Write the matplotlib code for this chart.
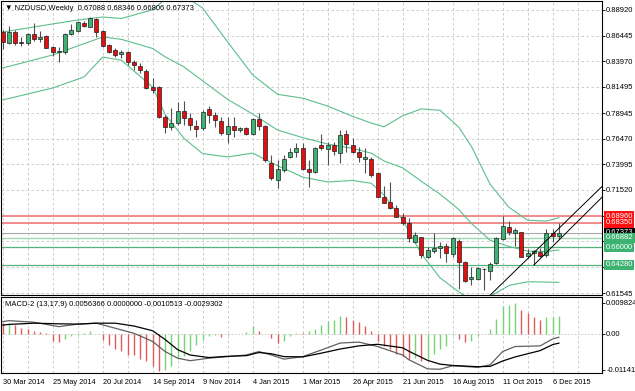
import numpy as np
import matplotlib.pyplot as plt
from matplotlib.patches import Rectangle

plt.rcParams['font.family'] = ['Liberation Sans', 'DejaVu Sans']

# weekly NZDUSD candles, week of 30 Mar 2014 .. 13 Dec 2015
opens = [0.8682, 0.8576, 0.8682, 0.8583, 0.8570, 0.8657, 0.8609, 0.8636, 0.8531, 0.8486,
         0.8483, 0.8657, 0.8692, 0.8769, 0.8731, 0.8805, 0.8692, 0.8554, 0.8505, 0.8462,
         0.8489, 0.8392, 0.8350, 0.8305, 0.8145, 0.8145, 0.7860, 0.7764, 0.7796, 0.7915,
         0.7845, 0.7770, 0.7754, 0.7935, 0.7877, 0.7822, 0.7693, 0.7773, 0.7732, 0.7748,
         0.7690, 0.7835, 0.7770, 0.7415, 0.7248, 0.7345, 0.7473, 0.7522, 0.7555, 0.7352,
         0.7323, 0.7587, 0.7545, 0.7587, 0.7512, 0.7693, 0.7587, 0.7522, 0.7448, 0.7448,
         0.7313, 0.7081, 0.7038, 0.6974, 0.6893, 0.6829, 0.6651, 0.6694, 0.6506, 0.6562,
         0.6593, 0.6610, 0.6530, 0.6661, 0.6458, 0.6288, 0.6291, 0.6383, 0.6368, 0.6443,
         0.6675, 0.6791, 0.6733, 0.6742, 0.6516, 0.6539, 0.6555, 0.6523, 0.6738, 0.67088]
highs = [0.8699, 0.8737, 0.8694, 0.8634, 0.8670, 0.8769, 0.8692, 0.8650, 0.8544, 0.8537,
         0.8670, 0.8757, 0.8790, 0.8781, 0.8827, 0.8815, 0.8703, 0.8563, 0.8522, 0.8505,
         0.8500, 0.8408, 0.8382, 0.8317, 0.8232, 0.8157, 0.7877, 0.7944, 0.8002, 0.8012,
         0.7896, 0.7828, 0.7925, 0.7964, 0.7909, 0.7854, 0.7860, 0.7860, 0.7765, 0.7764,
         0.7845, 0.7893, 0.7780, 0.7490, 0.7441, 0.7490, 0.7555, 0.7609, 0.7603, 0.7441,
         0.7564, 0.7693, 0.7618, 0.7618, 0.7732, 0.7732, 0.7651, 0.7570, 0.7555, 0.7473,
         0.7321, 0.7190, 0.7232, 0.7006, 0.6926, 0.6878, 0.6748, 0.6700, 0.6603, 0.6733,
         0.6651, 0.6636, 0.6700, 0.6675, 0.6465, 0.6410, 0.6410, 0.6394, 0.6458, 0.6700,
         0.6900, 0.6855, 0.6781, 0.6748, 0.6578, 0.6571, 0.6588, 0.6771, 0.6771, 0.68346]
lows = [0.8515, 0.8563, 0.8558, 0.8544, 0.8554, 0.8592, 0.8585, 0.8520, 0.8447, 0.8392,
        0.8471, 0.8650, 0.8684, 0.8728, 0.8723, 0.8634, 0.8534, 0.8473, 0.8435, 0.8425,
        0.8360, 0.8312, 0.8286, 0.8128, 0.8087, 0.7852, 0.7700, 0.7732, 0.7780, 0.7780,
        0.7732, 0.7661, 0.7732, 0.7796, 0.7764, 0.7683, 0.7603, 0.7667, 0.7715, 0.7683,
        0.7683, 0.7732, 0.7425, 0.7248, 0.7168, 0.7328, 0.7458, 0.7473, 0.7345, 0.7178,
        0.7313, 0.7538, 0.7393, 0.7490, 0.7415, 0.7522, 0.7512, 0.7425, 0.7313, 0.7274,
        0.7079, 0.7023, 0.6965, 0.6887, 0.6813, 0.6651, 0.6636, 0.6491, 0.6491, 0.6539,
        0.6491, 0.6458, 0.6506, 0.6191, 0.6265, 0.6233, 0.6281, 0.6184, 0.6281, 0.6436,
        0.6668, 0.6716, 0.6610, 0.6501, 0.6491, 0.6426, 0.6506, 0.6506, 0.6651, 0.66806]
closes = [0.8585, 0.8682, 0.8570, 0.8573, 0.8657, 0.8609, 0.8634, 0.8529, 0.8483, 0.8496,
          0.8657, 0.8699, 0.8779, 0.8737, 0.8812, 0.8676, 0.8544, 0.8489, 0.8457, 0.8489,
          0.8392, 0.8360, 0.8312, 0.8135, 0.8118, 0.7860, 0.7764, 0.7802, 0.7918, 0.7845,
          0.7780, 0.7738, 0.7903, 0.7877, 0.7828, 0.7700, 0.7770, 0.7732, 0.7754, 0.7690,
          0.7835, 0.7773, 0.7441, 0.7265, 0.7352, 0.7448, 0.7522, 0.7555, 0.7352, 0.7328,
          0.7555, 0.7555, 0.7587, 0.7531, 0.7683, 0.7596, 0.7522, 0.7473, 0.7473, 0.7297,
          0.7087, 0.7029, 0.6974, 0.6893, 0.6835, 0.6684, 0.6716, 0.6523, 0.6571, 0.6588,
          0.6610, 0.6545, 0.6690, 0.6452, 0.6274, 0.6313, 0.6394, 0.6388, 0.6436, 0.6684,
          0.6803, 0.6748, 0.6765, 0.6506, 0.6539, 0.6565, 0.6516, 0.6738, 0.6706, 0.67373]

# Bollinger bands (candle index, price)
bb_up_idx = [0, 4, 8, 12, 16, 19, 24, 26, 29, 32, 36, 40, 44, 48, 52, 56, 59, 61, 64, 67, 70,
             73, 75, 78, 81, 84, 87, 89]
bb_up = [0.8679, 0.8718, 0.8757, 0.8795, 0.8824, 0.8810, 0.8894, 0.8997, 0.9033, 0.8910, 0.8583,
         0.8264, 0.8076, 0.8040, 0.7963, 0.7864, 0.7798, 0.7762, 0.7869, 0.7936, 0.7922, 0.7758,
         0.7573, 0.7207, 0.6984, 0.6859, 0.6851, 0.6883]
bb_mid_idx = [0, 8, 16, 19, 24, 26, 29, 32, 36, 40, 44, 48, 52, 56, 59, 61, 64, 67, 70, 73, 75,
              78, 81, 84, 87, 89]
bb_mid = [0.8331, 0.8457, 0.8631, 0.8608, 0.8520, 0.8439, 0.8342, 0.8207, 0.8027, 0.7886, 0.7731,
          0.7658, 0.7596, 0.7554, 0.7507, 0.7433, 0.7365, 0.7235, 0.7111, 0.6962, 0.6828, 0.6665,
          0.6606, 0.6561, 0.6556, 0.6571]
bb_low_idx = [0, 8, 13, 16, 19, 24, 26, 29, 32, 36, 40, 44, 48, 52, 56, 59, 61, 64, 67, 70, 73,
              75, 78, 81, 84, 87, 89]
bb_low = [0.8022, 0.8138, 0.8244, 0.8437, 0.8406, 0.8146, 0.7881, 0.7651, 0.7503, 0.7471, 0.7508,
          0.7386, 0.7276, 0.7229, 0.7244, 0.7216, 0.7104, 0.6861, 0.6534, 0.6301, 0.6166, 0.6088,
          0.6123, 0.6228, 0.6264, 0.6261, 0.6258]

# MACD-2 (13,17,9)
macd_hist = [0.0033, 0.0035, 0.0029, 0.0019, 0.0014, 0.0009, 0.0005, 0.0002, -0.0023, -0.0026,
             -0.0016, -0.0007, -0.0002, 0.0003, 0.0009, 0.0001, -0.0018, -0.0034, -0.0048, -0.0055,
             -0.0066, -0.0068, -0.0081, -0.0087, -0.0102, -0.0118, -0.0113, -0.0102, -0.0081, -0.0071,
             -0.0055, -0.0034, -0.0018, -0.0007, -0.0003, -0.0010, -0.0002, -0.0001, 0.0001, 0.0005,
             0.0024, 0.0009, 0.0001, -0.0013, -0.0029, -0.0023, -0.0007, 0.0003, 0.0002, 0.0008,
             0.0016, 0.0029, 0.0040, 0.0043, 0.0056, 0.0055, 0.0043, 0.0037, 0.0026, 0.0010,
             -0.0022, -0.0038, -0.0049, -0.0064, -0.0070, -0.0080, -0.0075, -0.0086, -0.0080, -0.0064,
             -0.0049, -0.0037, -0.0002, -0.0016, -0.0026, -0.0023, -0.0007, 0.0001, 0.0014, 0.0048,
             0.0090, 0.0093, 0.0098, 0.0077, 0.0067, 0.0054, 0.0045, 0.0052, 0.0054, 0.0056366]
macd_idx = [0, 1, 5, 9, 12, 15, 18, 21, 24, 26, 28, 30, 33, 36, 39, 41, 43, 45, 48, 51, 54, 57, 60,
            64, 65, 68, 70, 72, 76, 78, 80, 82, 86, 88, 89]
macd_line = [0.0039, 0.0042, 0.0037, 0.0023, 0.0031, 0.0034, 0.0018, 0.0002, -0.0024, -0.0056, -0.0077,
             -0.0085, -0.0077, -0.0072, -0.0067, -0.0056, -0.0067, -0.0080, -0.0072, -0.0051, -0.0029,
             -0.0026, -0.0040, -0.0067, -0.0082, -0.0111, -0.0112, -0.0101, -0.0106, -0.0098, -0.0056,
             -0.0040, -0.0038, -0.0016, -0.0010513]
sig_line = [0.0028, 0.0030, 0.0034, 0.0032, 0.0031, 0.0034, 0.0034, 0.0025, 0.0010, -0.0018, -0.0050,
            -0.0067, -0.0075, -0.0071, -0.0069, -0.0059, -0.0063, -0.0072, -0.0073, -0.0061, -0.0048,
            -0.0038, -0.0033, -0.0044, -0.0055, -0.0084, -0.0096, -0.0100, -0.0104, -0.0103, -0.0086,
            -0.0073, -0.0053, -0.0034, -0.0029302]

price_ticks = [0.88920, 0.86445, 0.83970, 0.81495, 0.78945, 0.76470, 0.73995, 0.71520, 0.69045,
               0.66570, 0.64095, 0.61545]
price_labels = ['0.88920', '0.86445', '0.83970', '0.81495', '0.78945', '0.76470', '0.73995',
                '0.71520', '', '', '', '0.61545']
date_labels = ['30 Mar 2014', '25 May 2014', '20 Jul 2014', '14 Sep 2014', '9 Nov 2014', '4 Jan 2015',
               '1 Mar 2015', '26 Apr 2015', '21 Jun 2015', '16 Aug 2015', '11 Oct 2015', '6 Dec 2015']
red_levels = [0.68960, 0.68350]
green_levels = [0.66882, 0.66000, 0.64280]
last_price = 0.67373
trend1 = ([77.7, 97.0], [0.6117, 0.7250])
trend2 = ([85.0, 97.0], [0.6426, 0.7147])

W, H = 635, 391
fig = plt.figure(figsize=(W / 100, H / 100), dpi=100)
ax = fig.add_axes([1 / W, 1 - 295 / H, 601 / W, 294 / H])
axm = fig.add_axes([1 / W, 1 - 373 / H, 601 / W, 76 / H])

n = len(closes)
fs = 5.5
grid_kw = dict(color='#c4c4c4', lw=0.6, ls=(0, (3, 3)))
for a in (ax, axm):
    a.set_xlim(-0.27, 95.9)
    for s in a.spines.values():
        s.set_linewidth(0.8)
        s.set_color('black')
    a.set_xticks(range(0, 96, 4))
    a.xaxis.grid(True, **grid_kw)
    a.set_axisbelow(True)
    a.yaxis.tick_right()
    a.tick_params(axis='y', direction='out', length=2, width=0.6, labelsize=fs, pad=1)
    a.tick_params(axis='x', length=0)

ax.set_ylim(0.6136, 0.8979)
ax.set_yticks(price_ticks)
ax.set_yticklabels(price_labels)
ax.yaxis.grid(True, **grid_kw)
ax.set_xticklabels([])

# bollinger bands
band_c = '#5cbf8c'
ax.plot(bb_up_idx, bb_up, color=band_c, lw=0.8, zorder=2)
ax.plot(bb_mid_idx, bb_mid, color=band_c, lw=0.8, zorder=2)
ax.plot(bb_low_idx, bb_low, color=band_c, lw=0.8, zorder=2)

# level lines
for lv in red_levels:
    ax.axhline(lv, color='#f08a8a', lw=1.4, zorder=1.5)
ax.axhline(last_price, color='#a8a8a8', lw=0.8, zorder=1.5)
ax.axhline(green_levels[0], color='#9fd8b0', lw=1.0, zorder=1.5)
ax.axhline(green_levels[1], color='#52b47a', lw=0.9, zorder=1.5)
ax.axhline(green_levels[2], color='#52b47a', lw=0.9, zorder=1.5)

# candles
bw = 0.64
for i in range(n):
    o, h, l, c = opens[i], highs[i], lows[i], closes[i]
    ax.vlines(i, l, h, color='#505050', lw=0.8, zorder=3)
    up = c >= o
    ax.add_patch(Rectangle((i - bw / 2, min(o, c)), bw, max(abs(c - o), 0.0004),
                           facecolor='#3cb371' if up else '#e01010', edgecolor='#202020',
                           lw=0.5, zorder=4))

# channel lines
ax.plot(*trend1, color='black', lw=0.7, zorder=5)
ax.plot(*trend2, color='black', lw=0.7, zorder=5)

# right-side level labels
def tag(price, text, fc):
    ax.annotate(text, xy=(1, price), xycoords=('axes fraction', 'data'), xytext=(2.5, 0),
                textcoords='offset points', va='center', ha='left', fontsize=fs, color='white',
                bbox=dict(boxstyle='square,pad=0.2', fc=fc, ec='none'), annotation_clip=False)

tag(red_levels[0], '0.68960', '#ff1010')
tag(red_levels[1], '0.68350', '#ff1010')
tag(last_price, '0.67373', 'black')
for lv in green_levels:
    tag(lv, '%.5f' % lv, '#3cb371')

fig.text(5 / W, 1 - 8 / H, '\u25bc NZDUSD,Weekly  0.67088 0.68346 0.66806 0.67373',
         fontsize=fs, va='center', ha='left')

# MACD panel
axm.set_ylim(-0.0124, 0.0117)
axm.set_yticks([0.009824, 0.0, -0.011414])
axm.set_yticklabels(['0.009824', '0.00', '-0.011414'])
axm.axhline(0, color='#c4c4c4', lw=0.6, ls=(0, (2, 2)), zorder=0)
cols = []
prev = None
for v in macd_hist:
    cols.append('#e05a5a' if prev is not None and v < prev else '#74d474')
    prev = v
cols[0] = '#e05a5a'
axm.vlines(range(n), 0, macd_hist, colors=cols, lw=1.0, zorder=2)
axm.plot(macd_idx, macd_line, color='#606060', lw=0.9, zorder=3)
axm.plot(macd_idx, sig_line, color='black', lw=0.9, zorder=3)
axm.set_xticks(range(0, 96, 8), minor=False)
axm.set_xticks(range(0, 96, 4), minor=True)
axm.xaxis.grid(True, which='both', **grid_kw)
axm.set_xticklabels(date_labels, fontsize=5.3, ha='left')
axm.tick_params(axis='x', which='both', length=0, pad=4)
axm.text(0.006, 0.9, 'MACD-2 (13,17,9) 0.0056366 0.0000000 -0.0010513 -0.0029302',
         transform=axm.transAxes, fontsize=fs, va='center', ha='left')

fig.savefig('out.png', dpi=100, facecolor='white')
